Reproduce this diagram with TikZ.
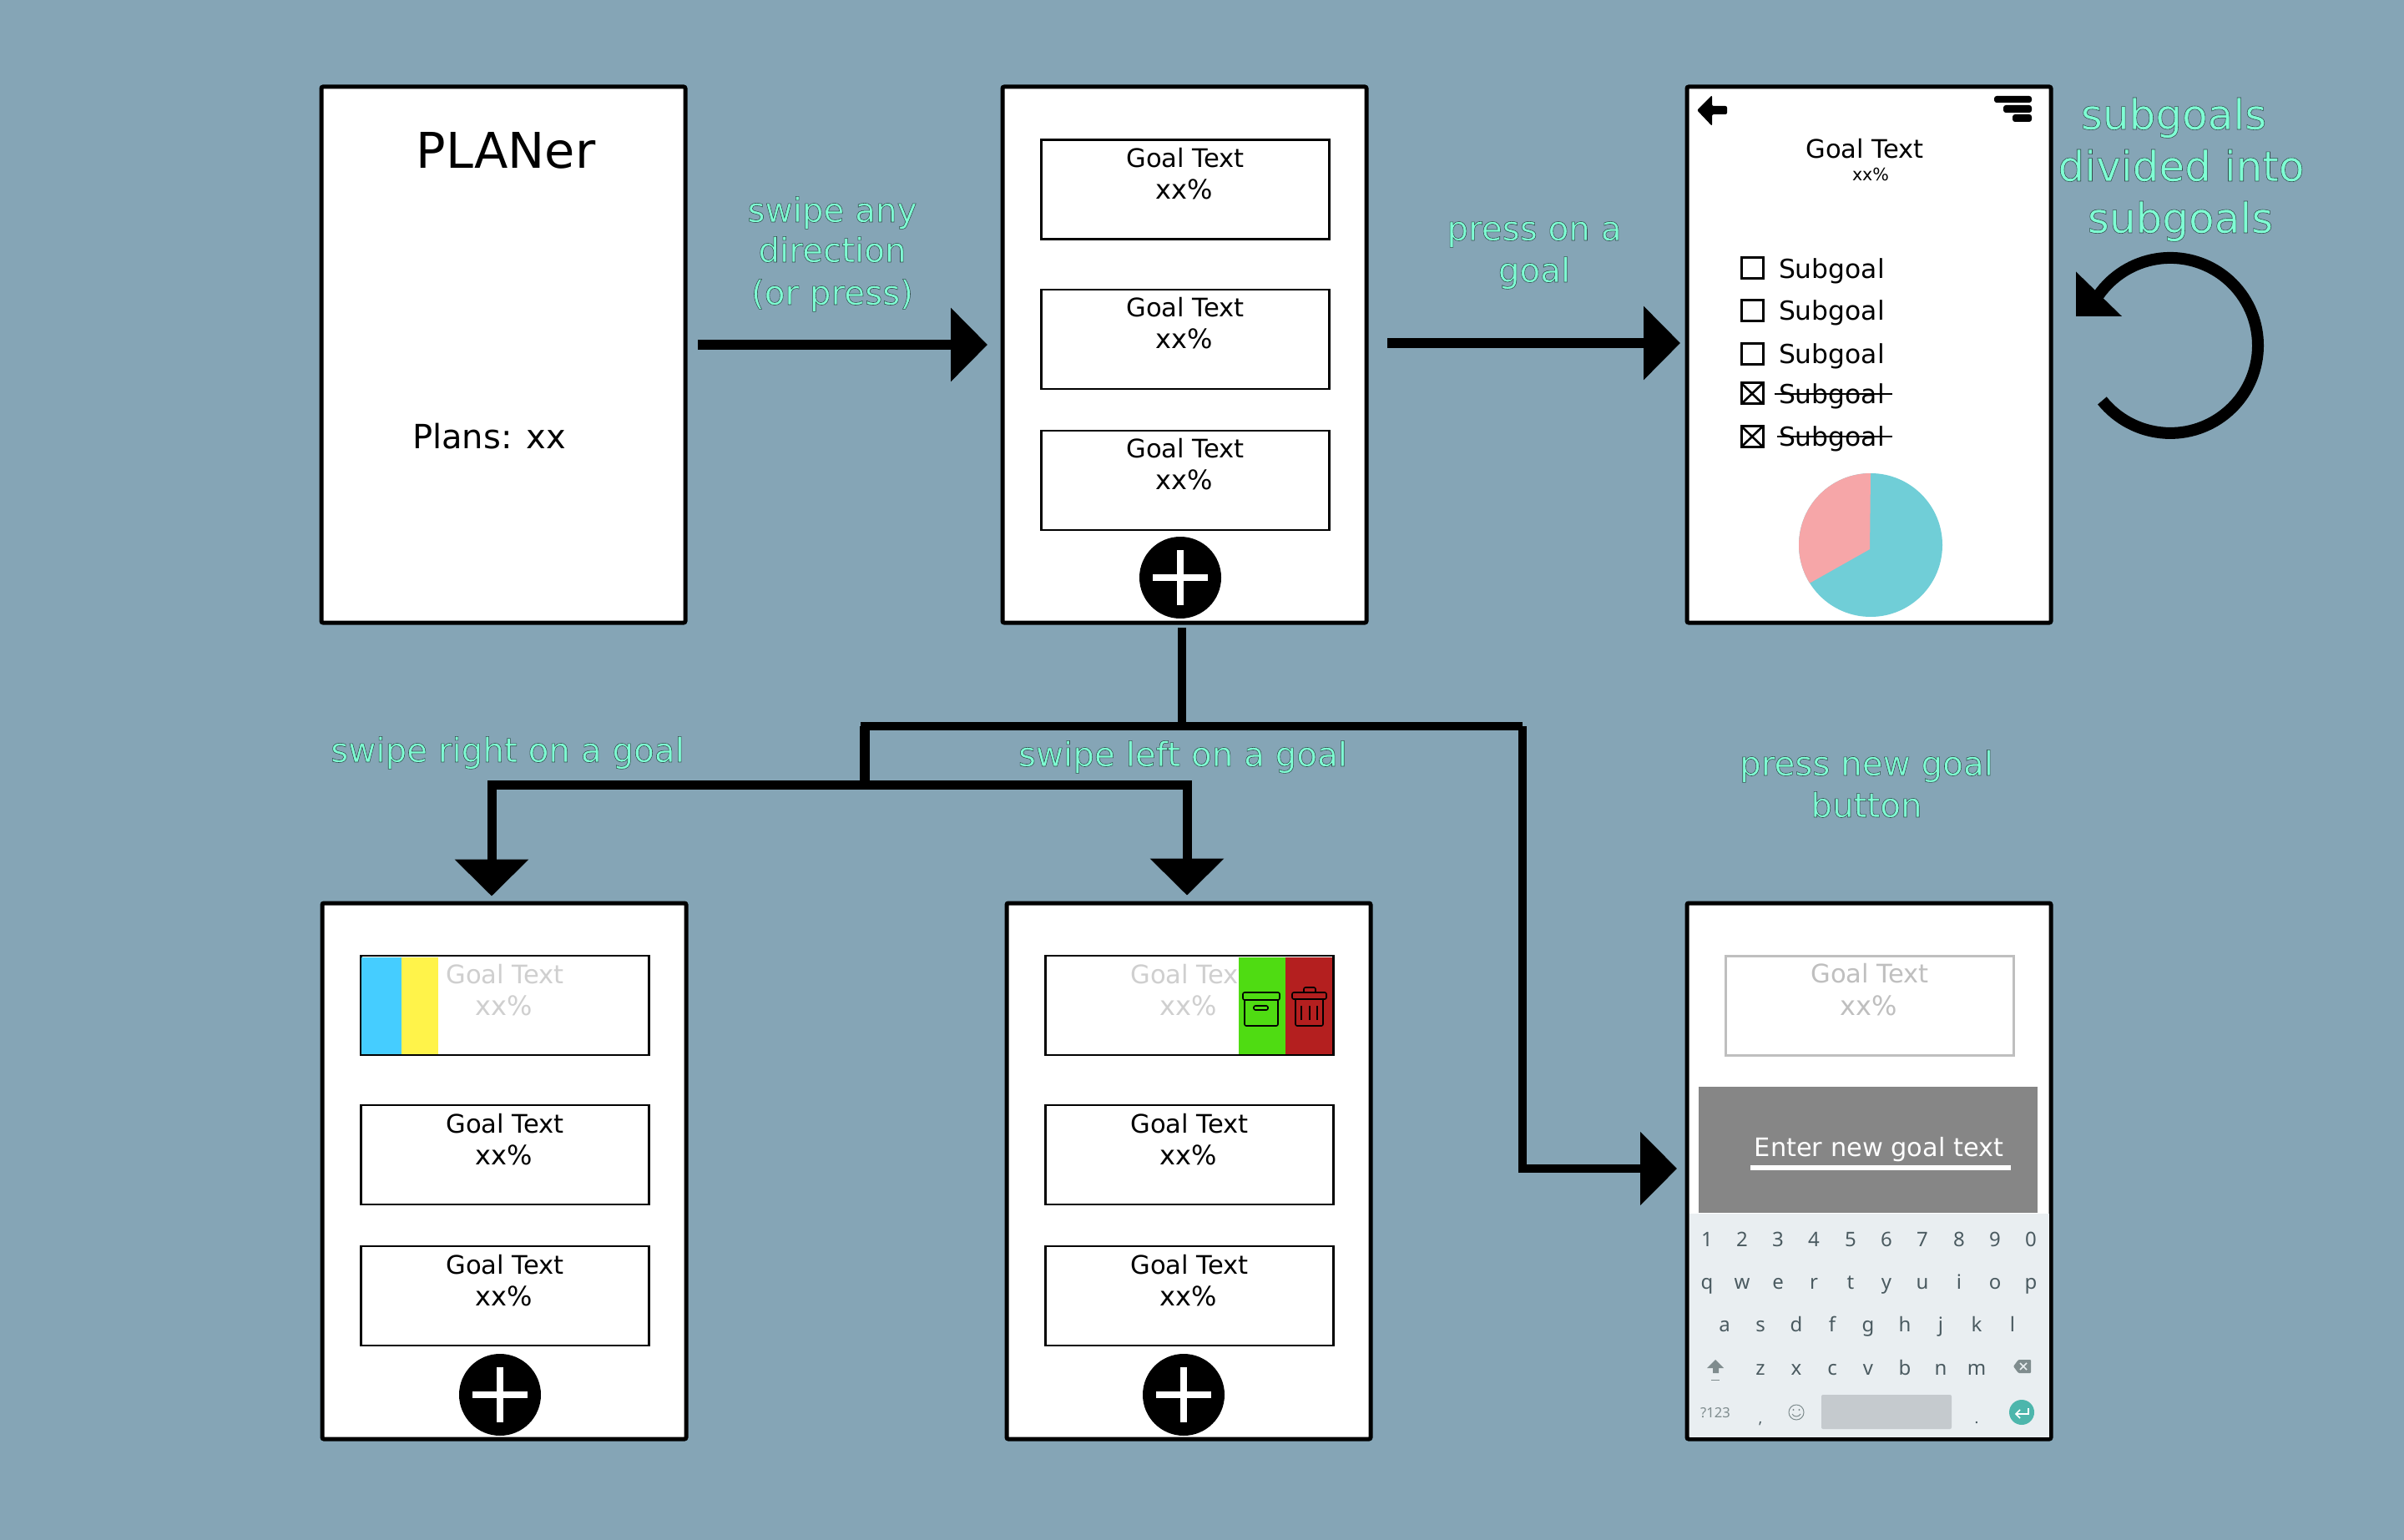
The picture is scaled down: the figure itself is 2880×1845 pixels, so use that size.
\documentclass[tikz,border=0pt]{standalone}
\usepackage{fontspec}
\setmainfont{DejaVu Sans}
\newfontfamily\kbfont{Noto Sans}
\usetikzlibrary{arrows.meta}
\definecolor{bgc}{HTML}{85A5B6}
\definecolor{aq}{HTML}{7FFFD4}
\definecolor{fadeg}{HTML}{CFCFCF}
\definecolor{boxg}{HTML}{BFBFBF}
\definecolor{bandg}{HTML}{868686}
\definecolor{kbbg}{HTML}{E9EEF1}
\definecolor{kbtxt}{HTML}{4A5A60}
\definecolor{kbic}{HTML}{7F8C8E}
\definecolor{spc}{HTML}{C5CACE}
\definecolor{entc}{HTML}{4DB6AC}
\definecolor{bluec}{HTML}{45CDFF}
\definecolor{yelc}{HTML}{FFF34A}
\definecolor{grnc}{HTML}{4FDC12}
\definecolor{redc}{HTML}{B41F1F}
\definecolor{piet}{HTML}{70CED7}
\definecolor{piep}{HTML}{F6A6A8}
\tikzset{
 screen/.style={draw=black,fill=white,line width=2.5pt,rounded corners=1pt,minimum width=218pt,minimum height=321pt,outer sep=0pt,inner sep=0pt},
 goalrect/.style={draw=black,fill=white,line width=1.25pt,minimum width=172.5pt,minimum height=59.5pt,outer sep=0pt,inner sep=0pt},
 txt/.style={anchor=base,inner sep=0pt,outer sep=0pt},
 flow/.style={draw=black,line width=5pt},
 flowarrow/.style={flow,-{Triangle[length=22pt,width=43pt]}},
 chk/.style={draw=black,line width=1.5pt,minimum width=13pt,minimum height=12.5pt,inner sep=0pt,outer sep=0pt},
 strike/.style={draw=black,line width=1.3pt},
 key/.style={anchor=base,inner sep=0pt,outer sep=0pt,text=kbtxt,font=\kbfont\fontsize{12}{12}\selectfont},
}
% name, left, top, text colour
\newcommand\goalbox[4]{%
 \node[goalrect] (#1) at (#2+173,#3+59.5) {};
 \node[txt,text=#4,font=\fontsize{15.3}{15.3}\selectfont] (#1t) at (#2+173,#3+33) {Goal Text};
 \node[txt,text=#4,font=\fontsize{16}{16}\selectfont] (#1p) at (#2+172,#3+71) {xx\%};
}
\newcommand\plusbtn[3]{%
 \node[circle,fill=black,minimum size=49pt,inner sep=0pt] (#1) at (#2,#3) {};
 \draw[white,line width=4pt] (#2-33,#3) -- (#2+33,#3) (#2,#3-33) -- (#2,#3+33);
}
\newcommand\outl[1]{{\color{aq}\special{pdf:code 2 Tr 0.28 w 0.2 0.3 0.3 RG}#1\special{pdf:code 0 Tr}}}
% name, x, baseline, size, text
\newcommand\lbl[5]{\node[txt,font=\fontsize{#4}{#4}\selectfont] (#1) at (#2,#3) {\outl{#5}};}
\newcommand\subg[3]{%
 \node[txt,anchor=base west,font=\fontsize{15.7}{15.7}\selectfont] (#1) at (2131,#3+1) {Subgoal};
 \node[chk] (#1c) at (2099,#2) {};
}
\newcommand\kk[3]{\node[key] at (#1,#2) {#3};}
\begin{document}
\begin{tikzpicture}[x=0.5pt,y=-0.5pt,line join=miter]
\fill[bgc] (0,0) rectangle (2880,1845);

% screens
\node[screen] (f1) at (603,425) {};
\node[screen] (f2) at (1419,425) {};
\node[screen] (f3) at (2239,425) {};
\node[screen] (f4) at (604,1403) {};
\node[screen] (f5) at (1424,1403) {};
\node[screen] (f6) at (2239,1403) {};

% screen 1
\node[txt,font=\fontsize{29.5}{29.5}\selectfont] (title) at (606,202) {PLANer};
\node[txt,font=\fontsize{20}{20}\selectfont] (plans) at (586,538) {Plans: xx};

% screen 2
\goalbox{ga}{1247}{167.5}{black}
\goalbox{gb}{1247}{347}{black}
\goalbox{gc}{1247}{516}{black}
\plusbtn{pa}{1414}{692}

% screen 3
\fill[black,rounded corners=1pt] (2033,132) -- (2051,114) -- (2051,127) -- (2069,127) -- (2069,137) -- (2051,137) -- (2051,151) -- cycle;
\fill[black,rounded corners=1.5pt] (2389,115) rectangle (2434,123);
\fill[black,rounded corners=1.5pt] (2400,126) rectangle (2434,135);
\fill[black,rounded corners=1.5pt] (2411,137) rectangle (2434,146);
\node[txt,font=\fontsize{15.3}{15.3}\selectfont] (gtitle) at (2234,190) {Goal Text};
\node[txt,font=\fontsize{10.3}{10.3}\selectfont] (gpct) at (2241,217) {xx\%};
\subg{sa}{321.5}{333}
\subg{sb}{372}{383}
\subg{sc}{424}{435}
\subg{sd}{471.5}{482.5}
\subg{se}{523}{534}
\draw[black,line width=1.3pt] (sdc.north west) -- (sdc.south east) (sdc.north east) -- (sdc.south west);
\draw[black,line width=1.3pt] (sec.north west) -- (sec.south east) (sec.north east) -- (sec.south west);
\draw[strike] (2125.5,472) -- (2267,472);
\draw[strike] (2129,523) -- (2267,523);
\fill[piet] (2241,653) circle[radius=43pt];
\fill[piep] (2240,658) -- (2241,567) arc[start angle=90,end angle=212,radius=43pt] -- cycle;

% circular arrow
\draw[black,line width=7pt] (2518.4,480) arc[start angle=219,end angle=505,radius=52.5pt];
\fill[black] (2487,325.5) -- (2487,379) -- (2542,379) -- cycle;

% screen 4
\goalbox{gd}{432}{1145}{fadeg}
\fill[bluec] (433,1147) rectangle (481,1263);
\fill[yelc] (481,1147) rectangle (525,1263);
\goalbox{ge}{432}{1324}{black}
\goalbox{gf}{432}{1493}{black}
\plusbtn{pb}{599}{1671}

% screen 5
\goalbox{gg}{1252}{1145}{fadeg}
\fill[grnc] (1484,1147) rectangle (1540,1263);
\fill[redc] (1540,1147) rectangle (1596,1263);
\begin{scope}[black,line width=0.8pt,rounded corners=1pt]
 \draw (1489,1189) rectangle (1533,1198);
 \draw (1491,1198) -- (1491,1229) -- (1531,1229) -- (1531,1198);
 \draw (1502,1205) rectangle (1519,1210);
 \draw (1548,1189) rectangle (1589,1197);
 \draw (1562,1189) -- (1562,1183) -- (1576,1183) -- (1576,1189);
 \draw (1552,1197) -- (1552,1229) -- (1585,1229) -- (1585,1197);
 \draw (1559,1205) -- (1559,1222) (1569,1205) -- (1569,1222) (1578,1205) -- (1578,1222);
\end{scope}
\goalbox{gh}{1252}{1324}{black}
\goalbox{gi}{1252}{1493}{black}
\plusbtn{pc}{1418}{1671}

% screen 6
\node[goalrect,draw=boxg] (gj) at (2240,1205) {};
\node[txt,text=boxg,font=\fontsize{15.3}{15.3}\selectfont] (gjt) at (2240,1177) {Goal Text};
\node[txt,text=boxg,font=\fontsize{16}{16}\selectfont] (gjp) at (2239,1216) {xx\%};
\fill[bandg] (2035,1302) rectangle (2441,1453);
\node[txt,text=white,font=\fontsize{15.2}{15.2}\selectfont] (enter) at (2251,1385) {Enter new goal text};
\fill[white] (2097,1396) rectangle (2409,1402);
\fill[kbbg] (2023.5,1454) rectangle (2454.5,1721.5);
\kk{2045}{1493}{1}\kk{2087}{1493}{2}\kk{2130}{1493}{3}\kk{2173}{1493}{4}\kk{2217}{1493}{5}
\kk{2260}{1493}{6}\kk{2303}{1493}{7}\kk{2347}{1493}{8}\kk{2390}{1493}{9}\kk{2433}{1493}{0}
\kk{2045}{1544}{q}\kk{2087}{1544}{w}\kk{2130}{1544}{e}\kk{2173}{1544}{r}\kk{2217}{1544}{t}
\kk{2260}{1544}{y}\kk{2303}{1544}{u}\kk{2347}{1544}{i}\kk{2390}{1544}{o}\kk{2433}{1544}{p}
\kk{2066}{1595}{a}\kk{2109}{1595}{s}\kk{2152}{1595}{d}\kk{2195}{1595}{f}\kk{2238}{1595}{g}
\kk{2282}{1595}{h}\kk{2325}{1595}{j}\kk{2368}{1595}{k}\kk{2411}{1595}{l}
\kk{2109}{1647}{z}\kk{2152}{1647}{x}\kk{2195}{1647}{c}\kk{2238}{1647}{v}\kk{2282}{1647}{b}
\kk{2325}{1647}{n}\kk{2368}{1647}{m}
\fill[kbic] (2055,1629) -- (2065,1639) -- (2059,1639) -- (2059,1645) -- (2052,1645) -- (2052,1639) -- (2045,1639) -- cycle;
\draw[kbic,line width=0.5pt] (2050,1653) -- (2060,1653);
\fill[kbic,rounded corners=0.5pt] (2412,1637) -- (2418,1629) -- (2433,1629) -- (2433,1645) -- (2418,1645) -- cycle;
\draw[kbbg,line width=0.8pt] (2420,1633) -- (2428,1641) (2428,1633) -- (2420,1641);
\node[key,text=kbic,font=\kbfont\fontsize{8.3}{8.3}\selectfont] at (2055,1698) {?123};
\node[key,font=\kbfont\fontsize{9}{9}\selectfont] at (2109,1705) {,};
\node[key,font=\kbfont\fontsize{9}{9}\selectfont] at (2368,1705) {.};
\draw[kbic,line width=0.5pt] (2152,1692) circle[radius=4.5pt];
\fill[kbic] (2148.5,1689) circle[radius=0.6pt] (2155.5,1689) circle[radius=0.6pt];
\draw[kbic,line width=0.5pt] (2147,1694) .. controls (2149,1698) and (2155,1698) .. (2157,1694);
\fill[spc,rounded corners=1pt] (2182,1671) rectangle (2338,1712);
\node[circle,fill=entc,minimum size=15pt,inner sep=0pt] (ent) at (2422,1692) {};
\draw[white,line width=0.8pt] (2430,1687) -- (2430,1694) -- (2415,1694);
\draw[white,line width=0.8pt] (2420,1689) -- (2415,1694) -- (2420,1699);

% connectors
\coordinate (ya) at (0,413);
\coordinate (yb) at (0,411);
\coordinate (yc) at (0,1400);
\coordinate (xa) at (1416,0);
\coordinate (xl) at (589,0);
\coordinate (xr) at (1422,0);
\coordinate (jt) at (1416,870);
\coordinate (jl) at (1036,870);
\coordinate (jm) at (1036,940);
\coordinate (jr) at (1824,870);
\draw[flowarrow,line width=6pt,shorten <=7.5pt,shorten >=9pt] (f1.east|-ya) -- (f2.west|-ya);
\draw[flowarrow,line width=6pt,shorten <=12.5pt,shorten >=4pt] (f2.east|-yb) -- (f3.west|-yb);
\draw[flow,shorten <=3pt] (f2.south-|xa) -- (jt);
\draw[flow,line width=5pt] (jm) -- (jl) -- (jr);
\draw[flow,line width=6pt] (jm) -- (jl);
\draw[flowarrow,line width=5.5pt,shorten >=4.2pt] (jm) -| (f4.north-|xl);
\draw[flowarrow,line width=5.5pt,shorten >=4.7pt] (jm) -| (f5.north-|xr);
\draw[flowarrow,line width=5pt,shorten >=6pt] (jr) |- (f6.west|-yc);

% labels
\lbl{la}{997}{266}{20.2}{swipe any}
\lbl{lb}{997}{314}{20.2}{direction}
\lbl{lc}{997}{365}{20.2}{(or press)}
\lbl{ld}{1838}{288}{20.2}{press on a}
\lbl{le}{1838}{338}{20.2}{goal}
\lbl{lf}{2604}{155}{25}{subgoals}
\lbl{lg}{2613}{217}{25}{divided into}
\lbl{lh}{2612}{279}{25}{subgoals}
\lbl{li}{608}{913}{20.2}{swipe right on a goal}
\lbl{lj}{1417}{918}{20.2}{swipe left on a goal}
\lbl{lk}{2236}{929}{20.2}{press new goal}
\lbl{ll}{2236}{979}{20.2}{button}
\end{tikzpicture}
\end{document}
